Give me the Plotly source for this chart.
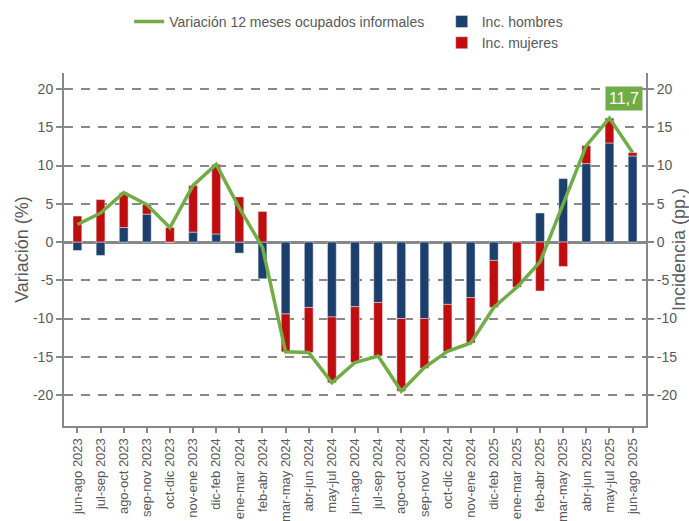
import plotly.graph_objects as go

categorias = ["jun-ago 2023", "jul-sep 2023", "ago-oct 2023", "sep-nov 2023", "oct-dic 2023",
              "nov-ene 2023", "dic-feb 2024", "ene-mar 2024", "feb-abr 2024", "mar-may 2024",
              "abr-jun 2024", "may-jul 2024", "jun-ago 2024", "jul-sep 2024", "ago-oct 2024",
              "sep-nov 2024", "oct-dic 2024", "nov-ene 2024", "dic-feb 2025", "ene-mar 2025",
              "feb-abr 2025", "mar-may 2025", "abr-jun 2025", "may-jul 2025", "jun-ago 2025"]

inc_hombres = [-1.1, -1.75, 1.9, 3.65, 0, 1.3, 1.05, -1.45, -4.8, -9.4, -8.55, -9.8, -8.45,
               -7.9, -10.0, -10.0, -8.15, -7.25, -2.4, 0, 3.8, 8.3, 10.25, 12.95, 11.25]
inc_mujeres = [3.4, 5.55, 4.55, 1.25, 1.9, 6.1, 9.1, 5.9, 4.0, -4.95, -5.9, -8.6, -7.3,
               -7.0, -9.5, -6.5, -6.15, -5.95, -6.15, -5.9, -6.4, -3.2, 2.35, 3.25, 0.45]
variacion = [2.3, 3.8, 6.45, 4.9, 1.9, 7.4, 10.15, 4.45, -0.7, -14.35, -14.45, -18.4, -15.75,
             -14.9, -19.5, -16.4, -14.3, -13.2, -8.55, -5.9, -2.6, 5.1, 12.6, 16.2, 11.7]

ticks = [-20, -15, -10, -5, 0, 5, 10, 15, 20]

AZUL = "#1d3f6b"
ROJO = "#c00d0d"
VERDE = "#70ad47"
GRIS = "#888888"
TEXTO = "#595959"
FONT = "Liberation Sans, Arial, sans-serif"
YR = [-24.05, 22.1]

fig = go.Figure()
fig.add_trace(go.Bar(x=categorias, y=inc_hombres, name="Inc. hombres", marker_color=AZUL,
                     width=0.38, yaxis="y", legend="legend2", showlegend=True))
fig.add_trace(go.Bar(x=categorias, y=inc_mujeres, name="Inc. mujeres", marker_color=ROJO,
                     width=0.38, yaxis="y", legend="legend2", showlegend=True))
fig.add_trace(go.Scatter(x=categorias, y=variacion, name="Variación 12 meses ocupados informales",
                         mode="lines", line=dict(color=VERDE, width=3.5), yaxis="y2",
                         legend="legend", showlegend=True))

axis_common = dict(range=YR, tickvals=ticks, ticktext=[str(t) for t in ticks],
                   tickfont=dict(size=14, color=TEXTO, family=FONT),
                   ticks="outside", ticklen=6, tickcolor=GRIS, tickwidth=1.5,
                   showline=True, linecolor=GRIS, linewidth=2, fixedrange=True,
                   automargin=False)

fig.update_layout(
    width=689, height=521,
    margin=dict(l=64, r=43, t=73, b=95, autoexpand=False),
    paper_bgcolor="white", plot_bgcolor="white",
    barmode="relative",
    showlegend=True,
    font=dict(family=FONT, color=TEXTO),
    xaxis=dict(type="category", range=[-0.58, 24.58], tickangle=-90,
               tickfont=dict(size=13, color=TEXTO, family=FONT),
               ticks="outside", ticklen=5, tickcolor=GRIS, tickwidth=1.5,
               showline=True, linecolor=GRIS, linewidth=2, showgrid=False,
               automargin=False),
    yaxis=dict(side="right", showgrid=True, gridcolor=GRIS, gridwidth=2, griddash="9px,8px",
               zeroline=True, zerolinecolor=GRIS, zerolinewidth=2.5,
               title=dict(text="Incidencia (pp.)", font=dict(size=18, color=TEXTO), standoff=22),
               **axis_common),
    yaxis2=dict(side="left", overlaying="y", showgrid=False, zeroline=False,
                title=dict(text="Variación (%)", font=dict(size=18, color=TEXTO), standoff=0),
                **axis_common),
    legend=dict(orientation="h", x=0.112, xanchor="left", y=1.19, yanchor="top",
                font=dict(size=14, color=TEXTO), bgcolor="rgba(0,0,0,0)"),
    legend2=dict(orientation="v", x=0.649, xanchor="left", y=1.19, yanchor="top",
                 font=dict(size=14, color=TEXTO), bgcolor="rgba(0,0,0,0)", tracegroupgap=0),
    annotations=[dict(x=23.64, y=18.8, xref="x", yref="y2", text="11,7", showarrow=False,
                      font=dict(size=16, color="white", family=FONT), bgcolor=VERDE,
                      borderpad=3, xanchor="center", yanchor="middle")],
)

fig.write_html("out.html", config={"displayModeBar": False},
               post_script="document.body.style.margin='0';document.body.style.overflow='hidden';")
